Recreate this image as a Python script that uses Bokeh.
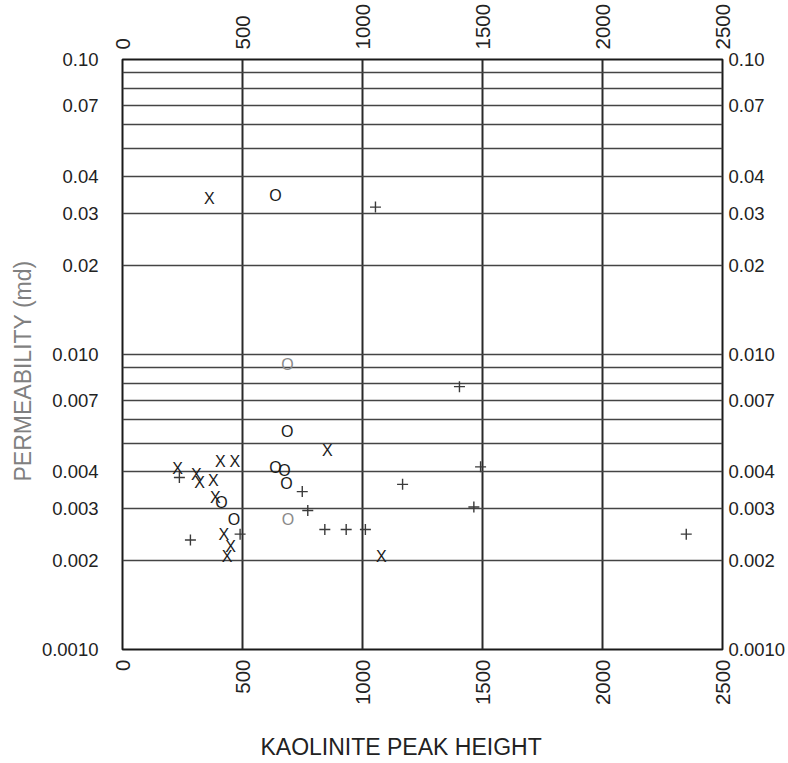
import math

from bokeh.plotting import figure
from bokeh.models import (ColumnDataSource, FixedTicker, LinearAxis, LogAxis,
                          Title)
from bokeh.core.properties import value
from bokeh.embed import file_html
from bokeh.resources import INLINE

# Kaolinite peak height vs. permeability (md), three sample groups
x_group_peak = [362, 853, 408, 468, 230, 308, 321, 378, 387, 422, 450, 436, 1079]
x_group_perm = [0.0337, 0.00474, 0.00434, 0.00434, 0.0041, 0.00393, 0.00368,
                0.00375, 0.00327, 0.00246, 0.00224, 0.00207, 0.00207]

o_group_peak = [637, 686, 637, 675, 683, 412, 464]
o_group_perm = [0.0345, 0.0055, 0.00414, 0.00403, 0.00365, 0.00316, 0.00275]

o_faint_peak = [687, 689]
o_faint_perm = [0.00925, 0.00275]

plus_group_peak = [1054, 1404, 1492, 1464, 2349, 237, 749, 1167, 772, 490, 283,
                   843, 932, 1012]
plus_group_perm = [0.0316, 0.00778, 0.00416, 0.00304, 0.00246, 0.00383,
                   0.00343, 0.00363, 0.00296, 0.00246, 0.00235, 0.00255,
                   0.00255, 0.00255]

x_ticks = [0, 500, 1000, 1500, 2000, 2500]
y_ticks = [0.1, 0.07, 0.04, 0.03, 0.02, 0.01, 0.007, 0.004, 0.003, 0.002, 0.001]
y_tick_labels = ["0.10", "0.07", "0.04", "0.03", "0.02", "0.010", "0.007",
                 "0.004", "0.003", "0.002", "0.0010"]
y_grid_values = [0.002, 0.003, 0.004, 0.005, 0.006, 0.007, 0.008, 0.009,
                 0.01, 0.02, 0.03, 0.04, 0.05, 0.06, 0.07, 0.08, 0.09]
x_grid_values = [500, 1000, 1500, 2000]

FONT = "Liberation Sans"

p = figure(width=788, height=763, frame_width=600, frame_height=590,
           x_range=(0, 2500), y_range=(0.001, 0.1), y_axis_type="log",
           x_axis_location=None, y_axis_location=None,
           output_backend="svg", toolbar_location=None,
           min_border_left=122, min_border_right=66,
           min_border_top=58, min_border_bottom=115,
           background_fill_color="white", border_fill_color="white")

p.outline_line_color = "#1a1a1a"
p.outline_line_width = 2

label_overrides = {t: s for t, s in zip(y_ticks, y_tick_labels)}


def style_axis(ax, size, standoff, orientation=None):
    ax.axis_line_color = None
    ax.major_tick_line_color = None
    ax.minor_tick_line_color = None
    ax.major_tick_in = 0
    ax.major_tick_out = 0
    ax.minor_tick_in = 0
    ax.minor_tick_out = 0
    ax.major_label_text_font = FONT
    ax.major_label_text_font_size = size
    ax.major_label_text_color = "#222222"
    ax.major_label_standoff = standoff
    if orientation is not None:
        ax.major_label_orientation = orientation


for side, standoff in (("left", 24), ("right", 6)):
    ax = LogAxis(ticker=FixedTicker(ticks=y_ticks))
    ax.major_label_overrides = label_overrides
    style_axis(ax, "18.5px", standoff)
    p.add_layout(ax, side)

# peak-height labels read bottom-to-top on both the top and bottom axes
for side in ("above", "below"):
    ax = LinearAxis(ticker=FixedTicker(ticks=x_ticks))
    style_axis(ax, "20.5px", 10, math.pi / 2)
    p.add_layout(ax, side)

# grid lines
p.xgrid.ticker = FixedTicker(ticks=x_grid_values)
p.ygrid.ticker = FixedTicker(ticks=y_grid_values)
p.xgrid.grid_line_color = "#2a2a2a"
p.xgrid.grid_line_width = 2
p.ygrid.grid_line_color = "#444444"
p.ygrid.grid_line_width = 1.6

# axis titles
p.add_layout(Title(text="KAOLINITE PEAK HEIGHT", align="left", offset=138,
                   text_font=FONT, text_font_size="23px",
                   text_font_style="normal", text_color="#222222",
                   standoff=46), "below")
p.add_layout(Title(text="PERMEABILITY (md)", align="left", offset=168,
                   text_font=FONT, text_font_size="23px",
                   text_font_style="normal", text_color="#808080",
                   standoff=6), "left")

# data marks
text_kw = dict(text_align="center", text_baseline="middle",
               text_font=value(FONT), text_font_size="16px")

src_x = ColumnDataSource(dict(x=x_group_peak, y=x_group_perm,
                              t=["X"] * len(x_group_peak)))
p.text(x="x", y="y", text="t", source=src_x, text_color="#1a1a1a", **text_kw)

src_o = ColumnDataSource(dict(x=o_group_peak, y=o_group_perm,
                              t=["O"] * len(o_group_peak)))
p.text(x="x", y="y", text="t", source=src_o, text_color="#1a1a1a", **text_kw)

src_of = ColumnDataSource(dict(x=o_faint_peak, y=o_faint_perm,
                               t=["O"] * len(o_faint_peak)))
p.text(x="x", y="y", text="t", source=src_of, text_color="#8a8a8a", **text_kw)

src_plus = ColumnDataSource(dict(x=plus_group_peak, y=plus_group_perm))
p.scatter(x="x", y="y", source=src_plus, marker="cross", size=11,
          line_color="#3a3a3a", line_width=1.4)

open("out.html", "w").write(file_html(p, INLINE))
